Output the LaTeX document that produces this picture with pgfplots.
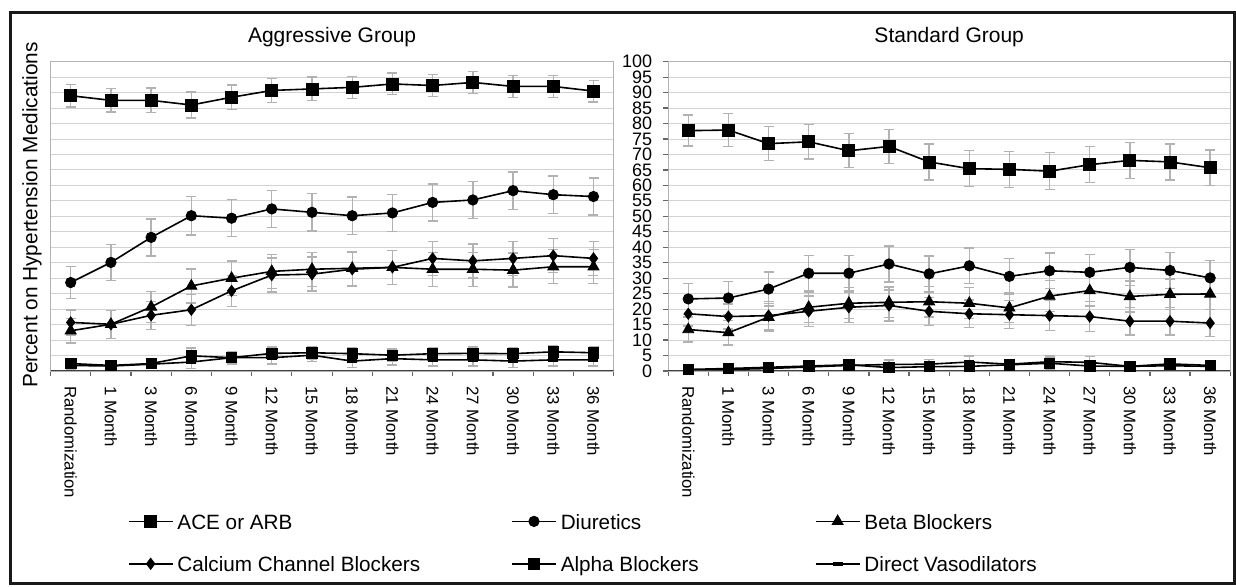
\documentclass[border=0pt]{standalone}
\usepackage{fontspec}
\setmainfont{Liberation Sans}
\usepackage{pgfplots}
\pgfplotsset{compat=1.18}
\usepackage{pgfplotstable}

\pgfplotstableread{
x ace acee diu diue beta betae ccb ccbe alp alpe vas vase
0 89.0 3.7 28.6 5.2 13.0 4.0 15.7 4.0 2.4 1.5 1.8 1.2
1 87.5 3.8 35.1 5.8 15.1 4.5 15.1 4.5 1.8 1.5 1.6 1.2
2 87.5 4.0 43.2 6.0 20.7 5.0 18.0 4.5 2.4 1.5 2.2 1.2
3 86.0 4.2 50.2 6.2 27.5 5.5 19.8 5.0 4.9 2.5 2.9 2.0
4 88.5 4.0 49.4 6.0 30.0 5.5 25.9 5.0 4.3 2.0 4.3 2.0
5 90.7 3.8 52.4 6.0 32.2 5.5 31.0 5.5 5.7 2.0 4.3 2.0
6 91.2 3.8 51.3 6.0 32.9 5.5 31.3 5.5 5.9 2.0 5.1 2.0
7 91.7 3.6 50.2 6.0 33.2 5.5 32.9 5.5 5.6 2.0 3.2 2.0
8 92.8 3.5 51.1 6.0 33.5 5.5 33.5 5.5 5.1 2.0 4.0 2.0
9 92.3 3.5 54.5 6.0 32.9 5.5 36.4 5.5 5.6 2.0 3.6 2.0
10 93.3 3.5 55.3 6.0 32.9 5.5 35.6 5.5 5.7 2.0 3.6 2.0
11 92.0 3.5 58.3 6.0 32.6 5.5 36.4 5.5 5.6 2.0 3.2 2.0
12 92.0 3.5 57.0 6.0 33.7 5.5 37.3 5.5 6.2 2.0 3.6 2.0
13 90.5 3.5 56.4 6.0 33.7 5.5 36.4 5.5 5.9 2.0 3.6 2.0
}\aggr

\pgfplotstableread{
x ace acee diu diue beta betae ccb ccbe alp alpe vas vase
0 77.7 5.0 23.3 5.0 13.4 4.0 18.5 4.0 0.5 1.0 0.3 0.8
1 77.9 5.3 23.6 5.3 12.4 4.0 17.6 4.0 0.8 1.0 0.5 0.8
2 73.5 5.5 26.5 5.5 17.4 4.5 17.9 4.5 1.2 1.0 0.8 0.8
3 74.1 5.5 31.6 5.8 20.6 5.0 19.3 5.0 1.6 1.2 1.3 1.0
4 71.2 5.5 31.6 5.8 21.9 5.0 20.6 5.0 2.0 1.2 1.8 1.0
5 72.6 5.5 34.6 5.8 22.2 5.0 21.2 5.0 1.1 1.5 2.1 1.5
6 67.6 5.8 31.4 5.8 22.4 5.0 19.3 4.5 1.4 1.5 2.2 1.5
7 65.4 5.8 34.0 5.8 21.9 5.0 18.5 4.5 1.5 1.5 2.9 2.0
8 65.2 5.8 30.6 5.8 20.4 4.8 18.2 4.5 2.0 1.5 2.2 1.5
9 64.6 6.0 32.4 5.8 24.2 5.0 17.9 4.8 2.5 1.8 3.0 1.8
10 66.7 5.8 31.9 5.8 26.0 5.0 17.6 4.8 1.6 1.5 2.8 1.8
11 68.1 5.8 33.5 5.8 24.1 5.0 16.1 4.5 1.5 1.5 1.5 1.2
12 67.6 5.8 32.5 5.8 24.8 5.0 16.1 4.5 2.3 1.5 1.7 1.2
13 65.7 5.8 30.1 5.6 24.9 5.0 15.5 4.4 1.8 1.5 1.5 1.2
}\stand

\pgfplotsset{
  panel/.style={
    scale only axis, height=154.65pt,
    xmin=-0.5, xmax=13.5, ymin=0, ymax=100,
    xtick={-0.5,0.5,...,13.5}, xticklabels={},
    extra x ticks={0,1,...,13},
    extra x tick labels={Randomization,1 Month,3 Month,6 Month,9 Month,12 Month,15 Month,18 Month,21 Month,24 Month,27 Month,30 Month,33 Month,36 Month},
    extra x tick style={major tick length=0pt, grid=none},
    xticklabel style={font=\fontsize{8.4}{10}\selectfont, yshift=-4pt, rotate=-90, anchor=west},
    ytick={0,5,...,100},
    /pgf/number format/assume math mode=true,
    ymajorgrids, grid style={gray!35, line width=0.5pt},
    axis line style={gray!60, line width=0.6pt},
    tick align=outside, major tick length=2.5pt,
    tick style={black!60, line width=0.6pt},
    xtick pos=bottom, ytick pos=left,
    every axis title/.style={at={(0.5,1)}, anchor=base, yshift=9.35pt, font=\fontsize{10.5}{12}\selectfont},
    every axis plot/.append style={black, line width=0.8pt, mark options={solid, line width=0.4pt},
      error bars/y dir=both, error bars/y explicit,
      error bars/error bar style={gray!60, line width=0.7pt},
      error bars/error mark options={rotate=90, gray!60, mark size=2.5pt, line width=0.7pt}},
  },
}

\begin{document}
\begin{tikzpicture}
\useasboundingbox (0,0) rectangle (618pt,293.5pt);
\draw[black!90, line width=1.5pt] (5pt,1.5pt) rectangle (617pt,287pt);

\begin{axis}[panel, width=281.5pt, at={(25.3pt,108pt)}, anchor=south west,
  title={Aggressive Group},
  yticklabels={}, ytick style={draw=none},
  legend columns=3,
  legend cell align=left,
  legend image code/.code={\draw[mark repeat=2,mark phase=2,#1] plot coordinates {(0pt,0pt) (11pt,0pt) (22pt,0pt)};},
  legend style={at={(0.1372,-0.4604)}, anchor=north west, draw=none, fill=none,
    inner sep=0pt, outer sep=0pt, font=\fontsize{10.35}{12}\selectfont,
    nodes={inner sep=0pt, text height=0.8em, text depth=0pt},
    row sep=13.2pt,
    /tikz/column 1/.style={column sep=2pt},
    /tikz/column 2/.style={column sep=45.5pt},
    /tikz/column 3/.style={column sep=2pt},
    /tikz/column 4/.style={column sep=58pt},
    /tikz/column 5/.style={column sep=2pt}},
]
\addplot[mark=square*, mark size=3pt] table[x=x, y=ace, y error=acee]{\aggr};
\addlegendentry{ACE or ARB}
\addplot[mark=*, mark size=2.6pt] table[x=x, y=diu, y error=diue]{\aggr};
\addlegendentry{Diuretics}
\addplot[mark=triangle*, mark size=3.2pt] table[x=x, y=beta, y error=betae]{\aggr};
\addlegendentry{Beta Blockers}
\addplot[mark=diamond*, mark size=2.8pt] table[x=x, y=ccb, y error=ccbe]{\aggr};
\addlegendentry{Calcium Channel Blockers}
\addplot[mark=square*, mark size=2.6pt] table[x=x, y=alp, y error=alpe]{\aggr};
\addlegendentry{Alpha Blockers}
\addplot[mark=-, mark size=2.5pt, mark options={line width=2pt}] table[x=x, y=vas, y error=vase]{\aggr};
\addlegendentry{Direct Vasodilators}
\draw[black!75, line width=0.9pt] (rel axis cs:0,0) -- (rel axis cs:1,0);
\end{axis}

\begin{axis}[panel, width=281pt, at={(334.1pt,108pt)}, anchor=south west,
  title={Standard Group},
  yticklabel style={font=\fontsize{9}{10}\selectfont, xshift=-2pt},
]
\addplot[mark=square*, mark size=3pt] table[x=x, y=ace, y error=acee]{\stand};
\addplot[mark=*, mark size=2.6pt] table[x=x, y=diu, y error=diue]{\stand};
\addplot[mark=triangle*, mark size=3.2pt] table[x=x, y=beta, y error=betae]{\stand};
\addplot[mark=diamond*, mark size=2.8pt] table[x=x, y=ccb, y error=ccbe]{\stand};
\addplot[mark=square*, mark size=2.6pt] table[x=x, y=alp, y error=alpe]{\stand};
\addplot[mark=-, mark size=2.5pt, mark options={line width=2pt}] table[x=x, y=vas, y error=vase]{\stand};
\draw[black!75, line width=0.9pt] (rel axis cs:0,0) -- (rel axis cs:1,0);
\end{axis}

\node[rotate=90, font=\fontsize{10.4}{12}\selectfont] at (16pt,186pt) {Percent on Hypertension Medications};
\end{tikzpicture}
\end{document}
